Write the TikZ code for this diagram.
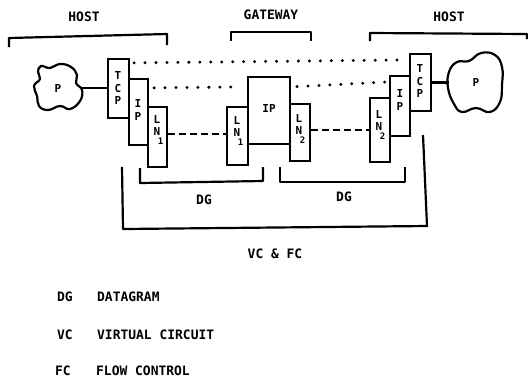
\documentclass[tikz,border=0pt]{standalone}
\usepackage{fontspec}
\setmonofont{DejaVu Sans Mono}
\usetikzlibrary{calc}
\begin{document}
\begin{tikzpicture}[x=1bp,y=-1bp,
  box/.style={draw, line width=2.2pt, inner sep=0pt},
  lab/.style={font=\ttfamily\bfseries\fontsize{11}{12.5}\selectfont, align=center, inner sep=0pt},
  big/.style={font=\ttfamily\bfseries\fontsize{13}{15}\selectfont, inner sep=0pt},
  dots/.style={line width=3.3pt, line cap=round, dash pattern=on 0pt off 11pt},
  dashline/.style={line width=2.2pt, dash pattern=on 7pt off 4pt},
  conn/.style={line width=2.2pt},
  brace/.style={line width=2.2pt, line join=round},
  blob/.style={line width=2.2pt}]
\useasboundingbox (0,0) rectangle (528,378);

% titles and brackets
\node[big] (hostL) at (84,17) {HOST};
\node[big] (gw) at (271,15) {GATEWAY};
\node[big] (hostR) at (449,17) {HOST};
\draw[brace] (9,47) -- (9,38) -- (167,34) -- (167,45);
\draw[brace] (231,41) -- (231,32) -- (311,32) -- (311,41);
\draw[brace] (370,41) -- (370,33) -- (527,34) -- (527,39);

% clouds
\node[inner sep=0pt, minimum width=48bp, minimum height=46bp, font=\ttfamily\bfseries\fontsize{11}{12.5}\selectfont] (P1) at (58,88) {P};
\node[inner sep=0pt, minimum width=54bp, minimum height=58bp, font=\ttfamily\bfseries\fontsize{11}{12.5}\selectfont] (P2) at (476,82) {P};
\begin{scope}[shift={(58,87)}]
\draw[blob] plot[smooth cycle, tension=0.75] coordinates {(-17,-21) (-8,-19) (2,-23) (13,-20) (19,-12) (18,-4) (24,3) (22,14) (12,22) (2,19) (-10,23) (-19,19) (-21,9) (-24,-1) (-18,-8) (-20,-15)};
\end{scope}
\begin{scope}[shift={(476,82)}]
\draw[blob] plot[smooth cycle, tension=0.75] coordinates {(-27,-10) (-19,-20) (-7,-21) (5,-29) (19,-27) (26,-15) (26,3) (24,20) (14,30) (0,26) (-14,30) (-22,22) (-28,6)};
\end{scope}

% left host stack
\node[box, minimum width=21bp, minimum height=59bp] (tcpL) at (118.5,88.5) {};
\node[box, minimum width=19bp, minimum height=66bp] (ipL) at (138.5,112) {};
\node[box, minimum width=19bp, minimum height=60bp] (lnL) at (157.5,137) {};
\node[lab] (tcpLt) at (118,88) {T\\C\\P};
\node[lab] (ipLt) at (138,110) {I\\P};
\node[lab] (lnLt) at (157,130) {L\\N\\[-3pt]\hspace*{7pt}{\fontsize{9}{9}\selectfont 1}};

% gateway stack
\node[box, minimum width=21bp, minimum height=58bp] (lnG1) at (237.5,136) {};
\node[box, minimum width=42bp, minimum height=67bp] (ipG) at (269,110.5) {};
\node[box, minimum width=20bp, minimum height=57bp] (lnG2) at (300,132.5) {};
\node[lab] (ipGt) at (269,108) {IP};
\node[lab] (lnG1t) at (237,131) {L\\N\\[-3pt]\hspace*{7pt}{\fontsize{9}{9}\selectfont 1}};
\node[lab] (lnG2t) at (299,129) {L\\N\\[-3pt]\hspace*{7pt}{\fontsize{9}{9}\selectfont 2}};

% right host stack
\node[box, minimum width=20bp, minimum height=64bp] (lnR) at (380,130) {};
\node[box, minimum width=20bp, minimum height=60bp] (ipR) at (400,106) {};
\node[box, minimum width=21bp, minimum height=57bp] (tcpR) at (420.5,82.5) {};
\node[lab] (lnRt) at (379,125) {L\\N\\[-3pt]\hspace*{7pt}{\fontsize{9}{9}\selectfont 2}};
\node[lab] (ipRt) at (400,100) {I\\P};
\node[lab] (tcpRt) at (420,81) {T\\C\\P};

% connectors
\draw[conn] (P1.east) -- (P1.east -| tcpL.west);
\draw[conn] (tcpR.east) -- (tcpR.east -| P2.west);
\draw[dots, shorten <=4pt, shorten >=4pt] ([yshift=-5pt]tcpL.north east) -- ([yshift=-7pt]tcpR.north west);
\draw[dots, shorten <=5pt, shorten >=9pt] ([yshift=-10pt]ipL.north east) -- ([yshift=-11pt]ipG.north west);
\draw[dots, shorten <=6pt, shorten >=3pt] ([yshift=-11pt]ipG.north east) -- ([yshift=-7pt]ipR.north west);
\draw[dashline] ([yshift=3bp]lnL.east) -- ([yshift=3bp]lnL.east -| lnG1.west);
\draw[dashline] ([yshift=2.5bp]lnG2.east) -- ([yshift=2.5bp]lnG2.east -| lnR.west);

% lower brackets
\draw[brace] (140,168) -- (140,183) -- (263,181) -- (263,167);
\draw[brace] (280,167) -- (280,182) -- (405,182) -- (405,167);
\draw[brace] (122,167) -- (123,229) -- (427,226) -- (423,135);
\node[big] (dg1) at (204,200) {DG};
\node[big] (dg2) at (344,197) {DG};
\node[big] (vcfc) at (275,254) {VC \& FC};

% legend
\node[big, anchor=west] (kDG) at (57,297) {DG};
\node[big, anchor=west] (vDG) at (97,297) {DATAGRAM};
\node[big, anchor=west] (kVC) at (57,335) {VC};
\node[big, anchor=west] (vVC) at (97,335) {VIRTUAL CIRCUIT};
\node[big, anchor=west] (kFC) at (55,371) {FC};
\node[big, anchor=west] (vFC) at (96,371) {FLOW CONTROL};
\end{tikzpicture}
\end{document}
